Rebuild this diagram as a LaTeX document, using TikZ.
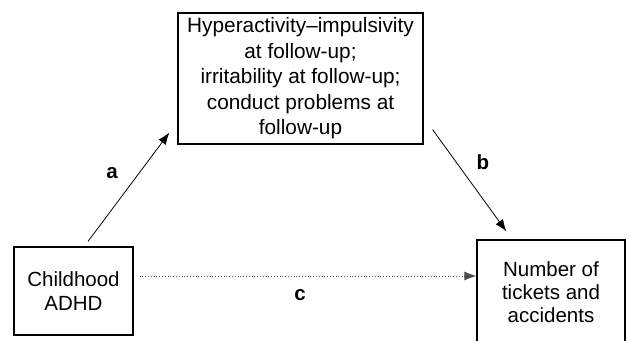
\documentclass[tikz,border=0pt]{standalone}
\usepackage{fontspec}
\setmainfont{Liberation Sans}
\usetikzlibrary{arrows.meta}

\begin{document}
\begin{tikzpicture}[x=1pt,y=-1pt,
    box/.style={draw=black, line width=1.2pt, align=center, inner sep=0pt,
      font=\fontsize{20.8}{25.5}\selectfont},
    arr/.style={-{Latex[length=12pt,width=9pt]}, color=black, line width=0.8pt},
    lbl/.style={font=\fontsize{20.5}{22}\selectfont\bfseries}]
    \useasboundingbox (0,0) rectangle (629,340);

    % Caixas
    \node[box, minimum width=245pt, minimum height=131pt] (followup) at (300.5,78.5)
      {Hyperactivity--impulsivity\\at follow-up;\\irritability at follow-up;\\conduct problems at\\follow-up};
    \node[box, minimum width=119pt, minimum height=88pt, font=\fontsize{20.5}{24}\selectfont] (adhd) at (73.5,291)
      {Childhood\\ADHD};
    \node[box, minimum width=148pt, minimum height=104pt, font=\fontsize{20.5}{23}\selectfont] (tickets) at (551,292)
      {Number of\\tickets and\\accidents};

    % Setas
    \draw [arr] ([xshift=14.5pt,yshift=5pt]adhd.north) -- ([xshift=-8pt,yshift=12pt]followup.south west);
    \draw [arr] ([xshift=9pt,yshift=15pt]followup.south east) -- ([xshift=30pt,yshift=8pt]tickets.north west);
    \coordinate (cstart) at ([xshift=6pt,yshift=15pt]adhd.east);
    \draw [arr, dotted, color=black!70] (cstart) -- (tickets.west |- cstart);

    % Rotulos
    \node[lbl] (a) at (112,173) {a};
    \node[lbl] (b) at (483,162) {b};
    \node[lbl] (c) at (300,295) {c};
\end{tikzpicture}
\end{document}
